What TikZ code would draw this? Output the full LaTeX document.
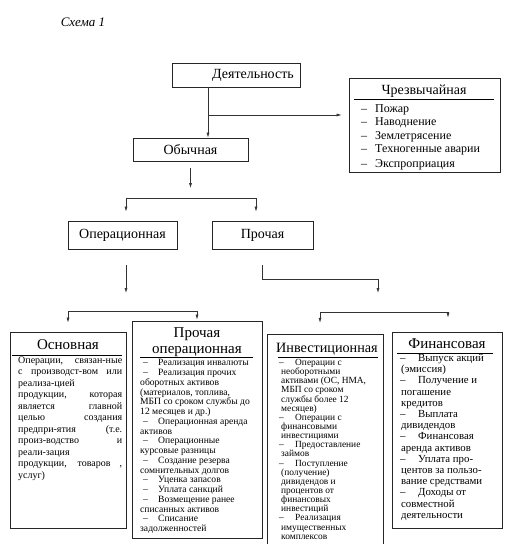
\documentclass[tikz,border=0pt]{standalone}
\usepackage{fontspec}
\setmainfont{Liberation Serif}
\usetikzlibrary{arrows.meta}
\newcommand\itemdash[2]{\hspace*{#1}\makebox[#2][l]{–}}
\begin{document}
\begin{tikzpicture}[x=1pt,y=-1pt,
  box/.style={draw=black!85, line width=0.8pt, inner sep=0pt},
  main/.style={font=\fontsize{14}{16}\selectfont},
  ttl/.style={font=\fontsize{15}{16}\selectfont, align=center, inner sep=0pt},
  rule/.style={draw=black, line width=0.9pt},
  arr/.style={draw=black!80, line width=0.6pt, -{Latex[length=5pt,width=3pt]}},
  lst/.style={anchor=north west, inner sep=0pt, align=left}]
\useasboundingbox (0,0) rectangle (508,544);

\node[font=\itshape\fontsize{13}{15}\selectfont] (cap) at (83,22) {Схема 1};

% upper boxes
\node[box, main, minimum width=128pt, minimum height=24pt] (dey) at (236,75) {\hspace*{34pt}Деятельность};
\node[box, main, minimum width=115pt, minimum height=23pt] (obych) at (190.5,149.5) {Обычная};
\node[box, main, minimum width=109pt, minimum height=28pt] (oper) at (122.5,235) {Операционная};
\node[box, main, minimum width=101pt, minimum height=28pt] (proch) at (262.5,235) {Прочая};

% extraordinary
\node[box, minimum width=151pt, minimum height=94pt] (chrez) at (424.5,125) {};
\node[main, inner sep=0pt] (chrezT) at (424,91) {Чрезвычайная};
\draw[rule] (354,99) -- (494,99);
\node[lst, font=\fontsize{12}{13.5}\selectfont] (chrezL) at (361,104) {%
\makebox[14pt][l]{–}Пожар\\
\makebox[14pt][l]{–}Наводнение\\
\makebox[14pt][l]{–}Землетрясение\\
\makebox[14pt][l]{–}Техногенные аварии\\[1.5pt]
\makebox[14pt][l]{–}Экспроприация};

% Основная
\node[box, minimum width=116pt, minimum height=196pt] (osn) at (68,430) {};
\node[ttl] (osnT) at (68,345) {Основная};
\draw[rule] (12,355) -- (122,355);
\node[lst, font=\fontsize{10}{11.5}\selectfont] (osnL) at (18,356.5) {%
\makebox[104pt][s]{Операции, связан-ные}\\
\makebox[104pt][s]{с производст-вом или}\\
реализа-цией\\
\makebox[104pt][s]{продукции, которая}\\
\makebox[104pt][s]{является главной}\\
\makebox[104pt][s]{целью создания}\\
\makebox[104pt][s]{предпри-ятия (т.е.}\\
\makebox[104pt][s]{произ-водство и}\\
реали-зация\\
\makebox[104pt][s]{продукции, товаров ,}\\
услуг)};

% Прочая операционная
\node[box, minimum width=130pt, minimum height=217pt] (poper) at (197,429.5) {};
\node[ttl] (poperT) at (197,342) {Прочая\\операционная};
\draw[rule] (140,357) -- (253,357);
\node[lst, font=\fontsize{9.6}{9.75}\selectfont] (poperL) at (140,359.5) {%
\itemdash{3pt}{15pt}Реализация инвалюты\\
\itemdash{3pt}{15pt}Реализация прочих\\
оборотных активов\\
(материалов, топлива,\\
МБП со сроком службы до\\
12 месяцев и др.)\\
\itemdash{3pt}{15pt}Операционная аренда\\
активов\\
\itemdash{3pt}{15pt}Операционные\\
курсовые разницы\\
\itemdash{3pt}{15pt}Создание резерва\\
сомнительных долгов\\
\itemdash{3pt}{15pt}Уценка запасов\\
\itemdash{3pt}{15pt}Уплата санкций\\
\itemdash{3pt}{15pt}Возмещение ранее\\
списанных активов\\
\itemdash{3pt}{15pt}Списание\\
задолженностей};

% Инвестиционная
\node[minimum width=115pt, minimum height=212pt, inner sep=0pt] (inv) at (325.5,441) {};
\draw[draw=black!85, line width=0.8pt] (inv.south west) -- (inv.north west) -- (inv.north east) -- (inv.south east);
\node[ttl, font=\fontsize{14.2}{16}\selectfont] (invT) at (327,349) {Инвестиционная};
\draw[rule] (278,357) -- (378,357);
\node[lst, font=\fontsize{9.4}{9.15}\selectfont] (invL) at (281,359) {%
\itemdash{-2pt}{16pt}Операции с\\
необоротными\\
активами (ОС, НМА,\\
МБП со сроком\\
службы более 12\\
месяцев)\\
\itemdash{-2pt}{16pt}Операции с\\
финансовыми\\
инвестициями\\
\itemdash{-2pt}{16pt}Предоставление\\
займов\\
\itemdash{-2pt}{16pt}Поступление\\
(получение)\\
дивидендов и\\
процентов от\\
финансовых\\
инвестиций\\
\itemdash{-2pt}{16pt}Реализация\\
имущественных\\
комплексов};

% Финансовая
\node[box, minimum width=110pt, minimum height=196pt] (fin) at (447,430) {};
\node[ttl] (finT) at (447,344) {Финансовая};
\draw[rule] (397,353) -- (493,353);
\node[lst, font=\fontsize{10.8}{11.2}\selectfont] (finL) at (401,354) {%
\itemdash{-1pt}{18pt}Выпуск акций\\
(эмиссия)\\
\itemdash{-1pt}{18pt}Получение и\\
погашение\\
кредитов\\
\itemdash{-1pt}{18pt}Выплата\\
дивидендов\\
\itemdash{-1pt}{18pt}Финансовая\\
аренда активов\\
\itemdash{-1pt}{18pt}Уплата про-\\
центов за пользо-\\
вание средствами\\
\itemdash{-1pt}{18pt}Доходы от\\
совместной\\
деятельности};

% connectors
\coordinate (j1) at (208,115);
\draw[arr] (dey.south -| j1) -- (obych.north -| j1);
\draw[arr, shorten >=7pt] (j1) -- (chrez.west |- j1);

\coordinate (o2) at (190.5,188);
\draw[arr, shorten <=7pt] (obych.south) -- (o2);

\coordinate (b1) at (126,198);
\coordinate (b2) at (256,198);
\draw[arr, shorten >=9pt] (b2) -- (b1) -- (b1 |- oper.north);
\draw[arr, shorten >=9pt] (b1) -- (b2) -- (b2 |- proch.north);

\coordinate (c1) at (126,293);
\draw[arr, shorten <=16pt] (oper.south -| c1) -- (c1);

\coordinate (b3) at (68,311);
\coordinate (b4) at (197,311);
\draw[arr, shorten >=9pt] (b4) -- (b3) -- (osn.north);
\draw[arr, shorten >=1pt] (b3) -- (b4) -- (poper.north);

\coordinate (c2) at (262,279);
\coordinate (c3) at (378,293);
\draw[arr, shorten <=16pt] (proch.south -| c2) -- (c2) -| (c3);

\coordinate (b5) at (320,312);
\coordinate (b6) at (448,312);
\draw[arr, shorten >=12pt] (b6) -- (b5) -- (b5 |- inv.north);
\draw[arr, shorten >=14pt] (b5) -- (b6) -- (b6 |- fin.north);
\end{tikzpicture}
\end{document}
